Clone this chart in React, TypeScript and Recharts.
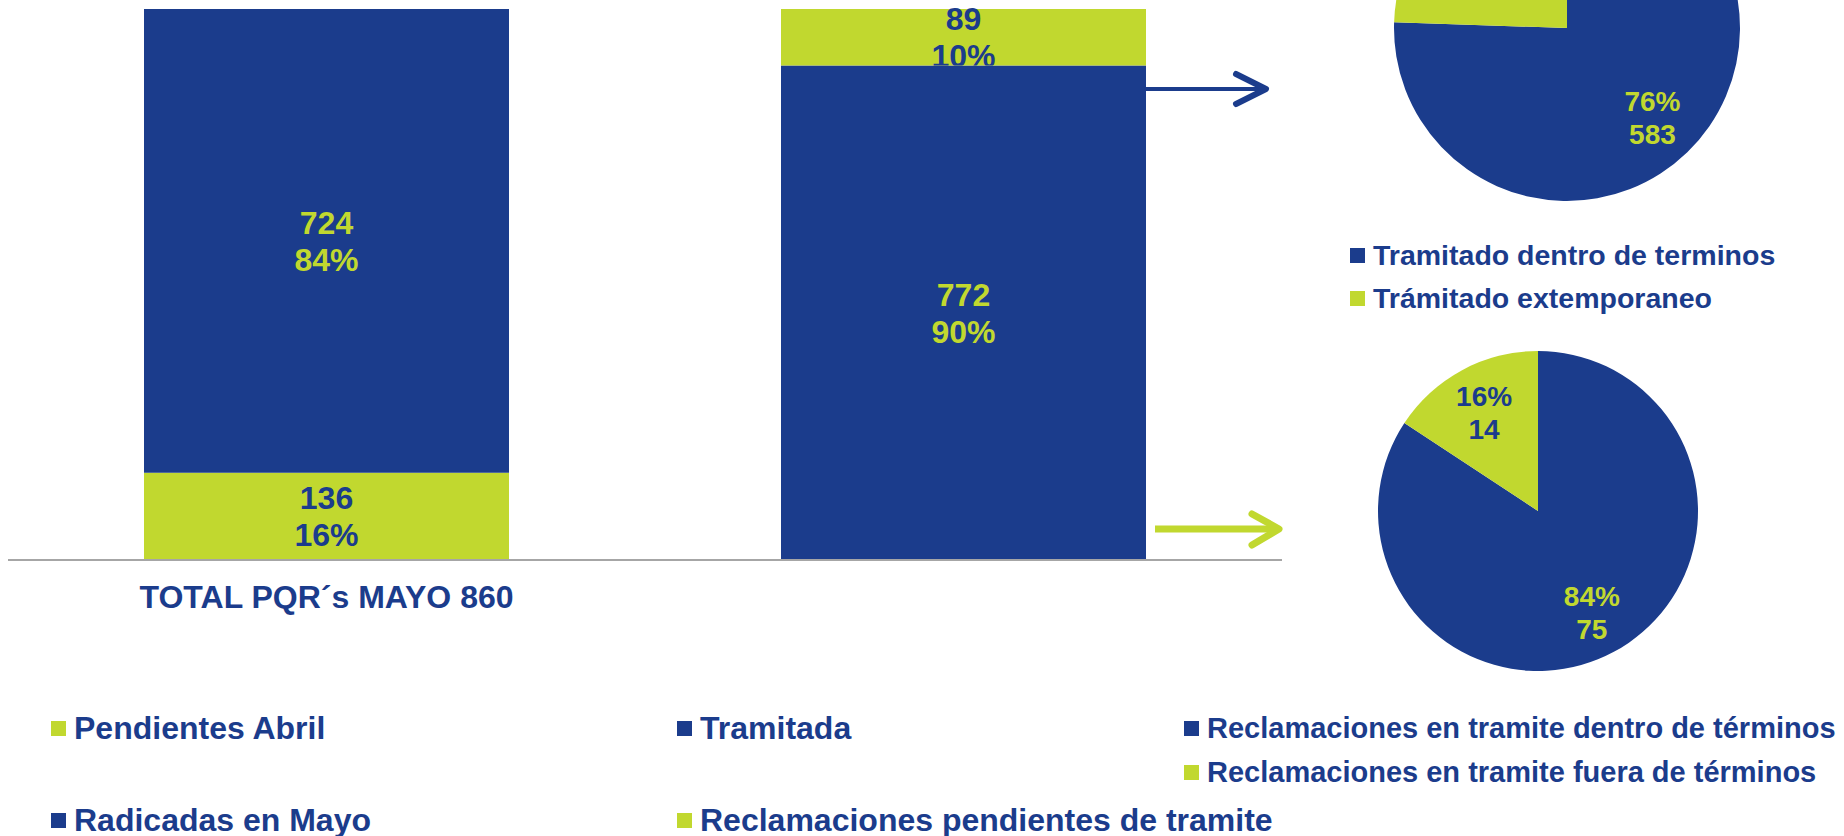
import { BarChart, Bar, XAxis, YAxis, LabelList, PieChart, Pie, Cell } from "recharts";

const BLUE = "#1B3C8C";
const GREEN = "#C1D82F";
const AXIS_GREY = "#A6A6A6";
const FONT = '"Liberation Sans", Arial, sans-serif';
const RAD = Math.PI / 180;

// bar chart data
const categories = ["TOTAL PQR´s MAYO 860", ""];
const pendientesAbril = [136, 0];
const radicadasMayo = [724, 0];
const tramitada = [0, 772];
const pendientesTramite = [0, 89];

// pie charts
const pie1Names = ["Tramitado dentro de terminos", "Trámitado extemporaneo"];
const pie1Values = [583, 189];
const pie2Names = ["Reclamaciones en tramite dentro de términos", "Reclamaciones en tramite fuera de términos"];
const pie2Values = [75, 14];

const barData = categories.map((name, i) => ({
  name,
  pendientesAbril: pendientesAbril[i],
  radicadasMayo: radicadasMayo[i],
  tramitada: tramitada[i],
  pendientesTramite: pendientesTramite[i],
}));
const totals = categories.map((_, i) => pendientesAbril[i] + radicadasMayo[i] + tramitada[i] + pendientesTramite[i]);

const pie1Data = pie1Names.map((name, i) => ({ name, value: pie1Values[i] }));
const pie2Data = pie2Names.map((name, i) => ({ name, value: pie2Values[i] }));
const SLICE_COLORS = [BLUE, GREEN];
const SLICE_TEXT = [GREEN, BLUE];

let clipSeq = 0;

function barLabel(color: string) {
  return (props: any) => {
    const vb = props.viewBox ?? props;
    const { x, y, width, height } = vb;
    const value = Number(props.value);
    if (!value) return null;
    const cx = x + width / 2;
    const cy = y + height / 2;
    const pct = Math.round((value / totals[props.index ?? 0]) * 100);
    const common = { x: cx, textAnchor: "middle" as const, fill: color, fontSize: 32, fontWeight: "bold", fontFamily: FONT };
    // the segment below hides whatever runs past the bottom of this one
    const id = `seg-clip-${clipSeq++}`;
    return (
      <g>
        <clipPath id={id}>
          <rect x={x - 20} y={y - 60} width={width + 40} height={height + 60} />
        </clipPath>
        <g clipPath={`url(#${id})`}>
          <text {...common} y={cy - 7}>{value}</text>
          <text {...common} y={cy + 30}>{pct}%</text>
        </g>
      </g>
    );
  };
}

function pieLabel(values: number[]) {
  const total = values.reduce((a, b) => a + b, 0);
  return (props: any) => {
    const { cx, cy, midAngle, outerRadius, index, value } = props;
    const r = outerRadius * 0.71;
    const x = cx + r * Math.cos(-midAngle * RAD);
    const y = cy + r * Math.sin(-midAngle * RAD);
    const pct = Math.round((value / total) * 100);
    const common = { x, textAnchor: "middle" as const, fill: SLICE_TEXT[index], fontSize: 28, fontWeight: "bold", fontFamily: FONT };
    return (
      <g>
        <text {...common} y={y - 5}>{pct}%</text>
        <text {...common} y={y + 28}>{value}</text>
      </g>
    );
  };
}

function CategoryTick(props: any) {
  const { x, y, payload } = props;
  return (
    <text x={x} y={y} dy={40} textAnchor="middle" fill={BLUE} fontSize={32} fontWeight="bold" fontFamily={FONT}>
      {payload.value}
    </text>
  );
}

function LegendItem({ left, top, color, label, size = 28 }: { left: number; top: number; color: string; label: string; size?: number }) {
  return (
    <div
      style={{
        position: "absolute",
        left,
        top: top - 20,
        height: 40,
        display: "flex",
        alignItems: "center",
        whiteSpace: "nowrap",
        fontFamily: FONT,
        fontWeight: "bold",
        fontSize: size,
        color: BLUE,
      }}
    >
      <span style={{ width: 15, height: 15, background: color, marginRight: 8, display: "inline-block", flex: "none" }} />
      {label}
    </div>
  );
}

export default function App() {
  return (
    <div style={{ position: "fixed", left: 0, top: 0, width: 1844, height: 836, background: "#fff", overflow: "hidden" }}>
      <div style={{ position: "absolute", left: 0, top: 0 }}>
        <BarChart width={1300} height={640} data={barData} margin={{ top: 9, right: 18, bottom: 0, left: 8 }} barSize={365}>
          <XAxis
            dataKey="name"
            height={80}
            tickLine={false}
            axisLine={{ stroke: AXIS_GREY, strokeWidth: 2 }}
            tick={<CategoryTick />}
            interval={0}
          />
          <YAxis hide domain={[0, 860]} allowDataOverflow />
          <Bar dataKey="pendientesAbril" stackId="a" fill={GREEN} isAnimationActive={false}>
            <LabelList dataKey="pendientesAbril" content={barLabel(BLUE)} />
          </Bar>
          <Bar dataKey="radicadasMayo" stackId="a" fill={BLUE} isAnimationActive={false}>
            <LabelList dataKey="radicadasMayo" content={barLabel(GREEN)} />
          </Bar>
          <Bar dataKey="tramitada" stackId="a" fill={BLUE} isAnimationActive={false}>
            <LabelList dataKey="tramitada" content={barLabel(GREEN)} />
          </Bar>
          <Bar dataKey="pendientesTramite" stackId="a" fill={GREEN} isAnimationActive={false}>
            <LabelList dataKey="pendientesTramite" content={barLabel(BLUE)} />
          </Bar>
        </BarChart>
      </div>

      <svg width={1844} height={836} style={{ position: "absolute", left: 0, top: 0, pointerEvents: "none" }}>
        <g stroke={BLUE} fill="none" strokeLinecap="round" strokeLinejoin="round">
          <line x1={1146} y1={89} x2={1262} y2={89} strokeWidth={4} />
          <polyline points="1236,74 1266,89 1236,104" strokeWidth={6} />
        </g>
        <g stroke={GREEN} fill="none" strokeLinecap="round" strokeLinejoin="round">
          <line x1={1155} y1={529} x2={1274} y2={529} strokeWidth={7} strokeLinecap="butt" />
          <polyline points="1252,514 1279,529 1252,545" strokeWidth={7} />
        </g>
      </svg>

      <div style={{ position: "absolute", left: 1380, top: 0 }}>
        <PieChart width={380} height={230} margin={{ top: 0, right: 0, bottom: 0, left: 0 }}>
          <Pie
            data={pie1Data}
            dataKey="value"
            nameKey="name"
            cx={187}
            cy={28}
            outerRadius={173}
            startAngle={90}
            endAngle={-270}
            stroke="none"
            labelLine={false}
            label={pieLabel(pie1Values)}
            isAnimationActive={false}
          >
            {pie1Data.map((d, i) => (
              <Cell key={d.name} fill={SLICE_COLORS[i]} />
            ))}
          </Pie>
        </PieChart>
      </div>

      <div style={{ position: "absolute", left: 1360, top: 340 }}>
        <PieChart width={360} height={340} margin={{ top: 0, right: 0, bottom: 0, left: 0 }}>
          <Pie
            data={pie2Data}
            dataKey="value"
            nameKey="name"
            cx={178}
            cy={171}
            outerRadius={160}
            startAngle={90}
            endAngle={-270}
            stroke="none"
            labelLine={false}
            label={pieLabel(pie2Values)}
            isAnimationActive={false}
          >
            {pie2Data.map((d, i) => (
              <Cell key={d.name} fill={SLICE_COLORS[i]} />
            ))}
          </Pie>
        </PieChart>
      </div>

      {/* legend of the first pie */}
      <LegendItem left={1350} top={255} color={BLUE} label={pie1Names[0]} size={28.5} />
      <LegendItem left={1350} top={298} color={GREEN} label={pie1Names[1]} size={28.5} />

      {/* bottom legend */}
      <LegendItem left={51} top={728} color={GREEN} label="Pendientes Abril" size={32} />
      <LegendItem left={51} top={820} color={BLUE} label="Radicadas en Mayo" size={32} />
      <LegendItem left={677} top={728} color={BLUE} label="Tramitada" size={32} />
      <LegendItem left={677} top={820} color={GREEN} label="Reclamaciones pendientes de tramite" size={32} />
      <LegendItem left={1184} top={728} color={BLUE} label={pie2Names[0]} size={29} />
      <LegendItem left={1184} top={772} color={GREEN} label={pie2Names[1]} size={29} />
    </div>
  );
}
